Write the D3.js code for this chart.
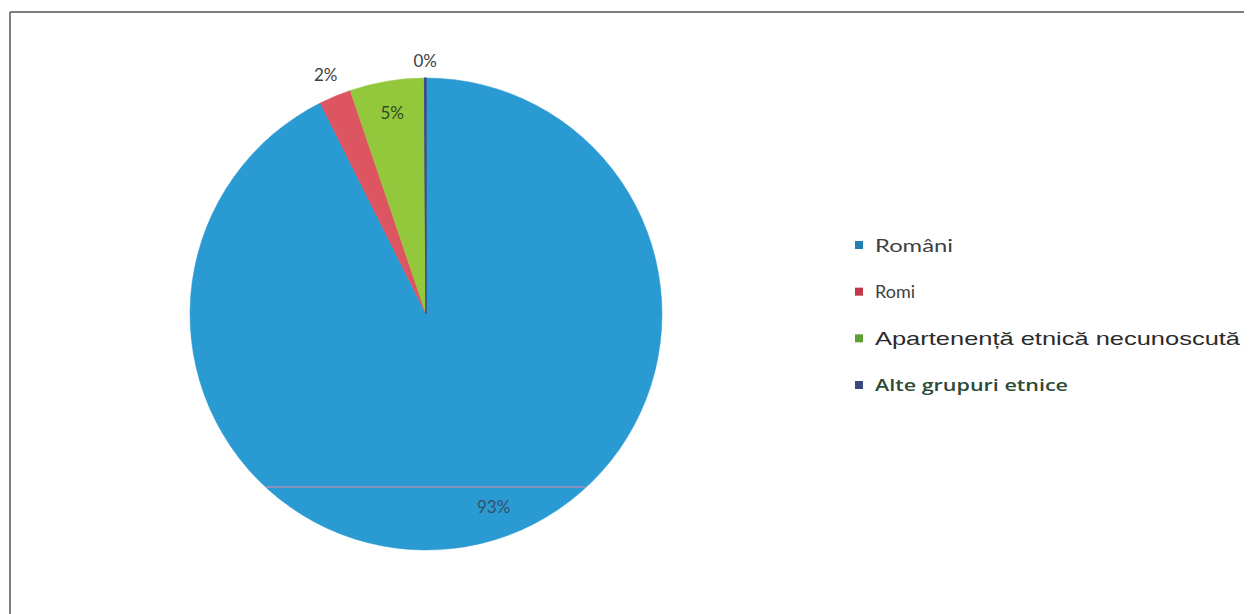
<!DOCTYPE html>
<html>
<head>
<meta charset="utf-8">
<script src="https://cdn.jsdelivr.net/npm/d3@7"></script>
<style>
  html, body { margin: 0; padding: 0; background: #fff; }
  svg { display: block; }
</style>
</head>
<body>
<svg id="chart" width="1258" height="614"></svg>
<script>
// ---- data ----
const categories = ["Români", "Romi", "Apartenență etnică necunoscută", "Alte grupuri etnice"];
const values = [92.6, 2.2, 5.1, 0.1];
const colors = ["#2a9ad2", "#dc5560", "#94c83c", "#3d4f86"];
const labelTexts = values.map(v => Math.round(v) + "%");

// ---- layout ----
const svg = d3.select("#chart");
const cx = 426, cy = 314, R = 236;

// frame
svg.append("line").attr("x1", 10).attr("y1", 12).attr("x2", 1244).attr("y2", 12)
  .attr("stroke", "#555").attr("stroke-width", 1.5);
svg.append("line").attr("x1", 10).attr("y1", 12).attr("x2", 10).attr("y2", 614)
  .attr("stroke", "#555").attr("stroke-width", 1.5);

const data = categories.map((c, i) => ({ cat: c, value: values[i], color: colors[i], label: labelTexts[i] }));

const pie = d3.pie().sort(null).value(d => d.value).startAngle(0).endAngle(2 * Math.PI);
const arc = d3.arc().innerRadius(0).outerRadius(R);
const arcs = pie(data);

const g = svg.append("g").attr("transform", `translate(${cx},${cy})`);
g.selectAll("path.slice").data(arcs).join("path")
  .attr("class", "slice")
  .attr("d", arc)
  .attr("fill", d => d.data.color)
  .attr("stroke", d => d.data.color)
  .attr("stroke-width", 0.5);

// thin dark edge of the tiny slice
g.append("path").attr("d", arc(arcs[3])).attr("fill", "none").attr("stroke", colors[3]).attr("stroke-width", 1.2);

// faint scan line across pie
g.append("clipPath").attr("id", "pieclip").append("circle").attr("r", R);
g.append("line").attr("x1", -R).attr("x2", R).attr("y1", 173).attr("y2", 173)
  .attr("stroke", "#e58aa6").attr("stroke-width", 1.2).attr("clip-path", "url(#pieclip)");

// data labels
const labelRadius = [198, 260, 204, 254];
const labelDx = [22, 0, 0, 0];
const labelColor = ["#34506a", "#404040", "#2f4a20", "#404040"];
g.selectAll("text.lbl").data(arcs).join("text")
  .attr("class", "lbl")
  .attr("x", (d, i) => Math.sin((d.startAngle + d.endAngle) / 2) * labelRadius[i] + labelDx[i])
  .attr("y", (d, i) => -Math.cos((d.startAngle + d.endAngle) / 2) * labelRadius[i])
  .attr("text-anchor", "middle")
  .attr("dominant-baseline", "central")
  .attr("font-family", "Lato, 'Open Sans', sans-serif")
  .attr("font-size", 17)
  .attr("fill", (d, i) => labelColor[i])
  .text(d => d.data.label);

// legend
const legendY = d3.scalePoint().domain(categories).range([245, 385]);
const legendFonts = ["Lato, sans-serif", "Lato, sans-serif", "'Liberation Sans', Arial, sans-serif", "'Open Sans', sans-serif"];
const legendSizes = [17, 17, 19, 16];
const legendColors = ["#404040", "#404040", "#2b2b2b", "#2e4a38"];
const legendWeights = ["normal", "normal", "normal", "600"];
const legendWidths = [78, 40, 365, 193];
const swatchColors = ["#1f7fb0", "#c23a48", "#5f9e34", "#3a4a80"];
const lg = svg.append("g");
data.forEach((d, i) => {
  const y = legendY(d.cat);
  lg.append("rect").attr("x", 855).attr("y", y - 4).attr("width", 8).attr("height", 8).attr("fill", swatchColors[i]);
  lg.append("text").attr("x", 875).attr("y", y)
    .attr("dominant-baseline", "central")
    .attr("font-family", legendFonts[i])
    .attr("font-size", legendSizes[i])
    .attr("font-weight", legendWeights[i])
    .attr("fill", legendColors[i])
    .attr("textLength", legendWidths[i])
    .attr("lengthAdjust", "spacingAndGlyphs")
    .text(d.cat);
});
</script>
</body>
</html>
